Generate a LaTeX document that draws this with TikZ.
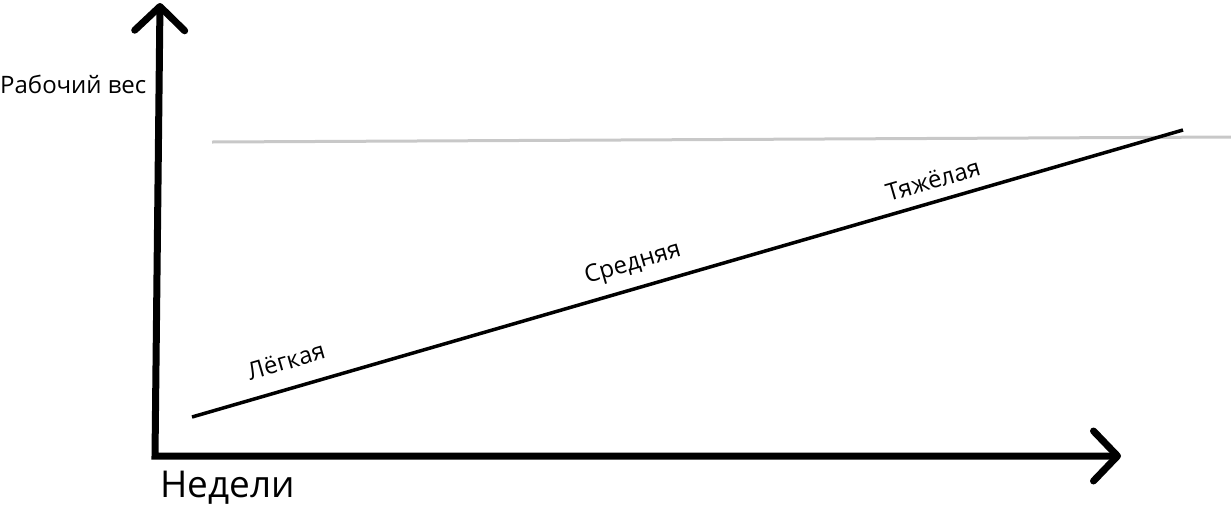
\documentclass[tikz,border=0pt]{standalone}
\usepackage{fontspec}
\setmainfont{Open Sans}
\usetikzlibrary{arrows.meta, positioning}
\definecolor{limitgray}{RGB}{200, 200, 200}

\begin{document}
\begin{tikzpicture}[
      x=1pt, y=-1pt,
      axis/.style={line width=7pt, line join=miter,
                   {Straight Barb[round, length=24pt, width=50pt]}-{Straight Barb[round, length=24pt, width=50pt]}},
      trend/.style={line width=3.5pt, black},
      limit/.style={line width=3pt, limitgray},
      phase/.style={font=\fontsize{24}{28}\selectfont, rotate=16.2}
    ]
      \useasboundingbox (0,0) rectangle (1231,507);

      \coordinate (ytop) at (160,3);
      \coordinate (origin) at (155,456);
      \coordinate (xend) at (1121,456);
      \draw[axis] (ytop) -- (origin) -- (xend);

      \node[anchor=west, font=\fontsize{37}{42}\selectfont, inner sep=0pt] (weeks) at (160,488) {Недели};
      \node[anchor=west, font=\fontsize{24}{28}\selectfont, inner sep=0pt] (weight) at (0,84) {Рабочий вес};

      % maximum level
      \coordinate (maxleft) at (212,142);
      \coordinate (maxright) at (1231,137);
      \draw[limit] (maxleft) -- (maxright);

      % load progression
      \coordinate (start) at (192,417);
      \coordinate (finish) at (1183,130);
      \draw[trend] (start) -- (finish);

      \node[phase] (light) at (286,361) {Лёгкая};
      \node[phase] (medium) at (633,264) {Средняя};
      \node[phase] (heavy) at (933,180) {Тяжёлая};
    \end{tikzpicture}
\end{document}
